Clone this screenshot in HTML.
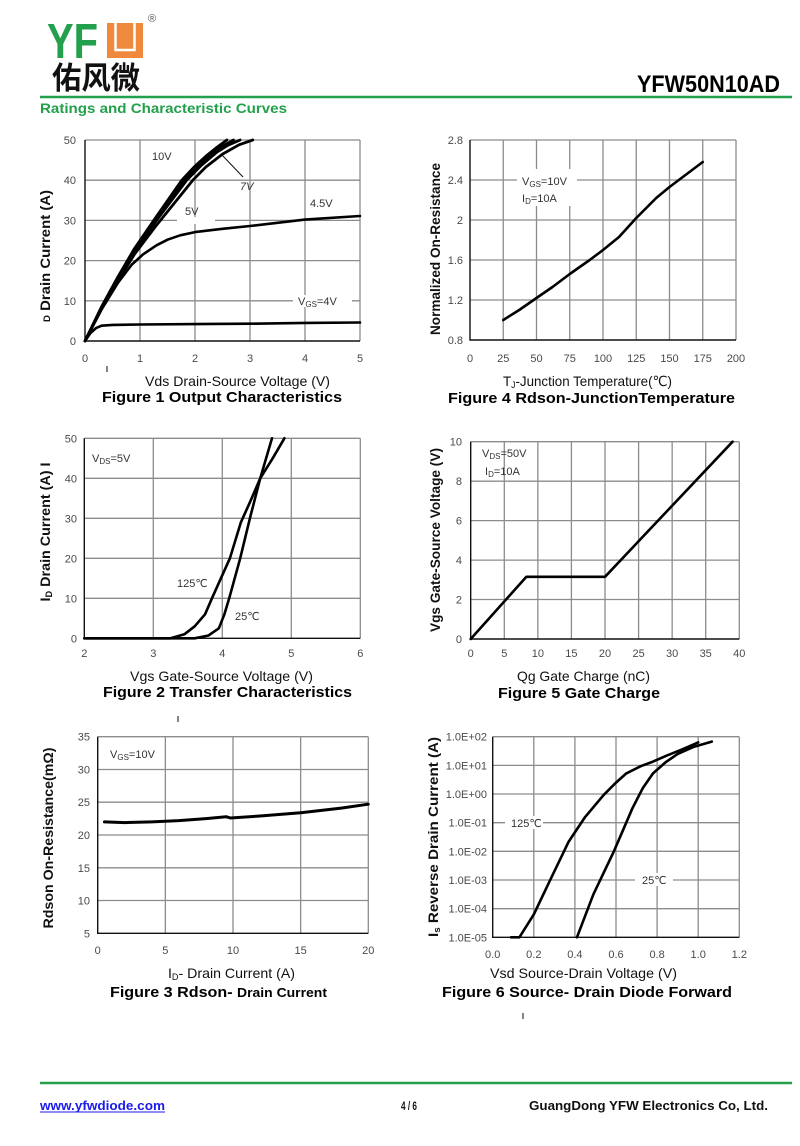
<!DOCTYPE html>
<html><head><meta charset="utf-8"><style>
html,body{margin:0;padding:0;background:#fff;}
svg{display:block;}
text{font-family:"Liberation Sans",Arial,"Noto Sans CJK SC",sans-serif;}
.tk{font-size:11px;fill:#4a4a4a;}
.ax{font-size:14px;fill:#111;}
.yt{font-size:14px;fill:#111;font-weight:bold;}
.ft{font-size:15px;fill:#000;font-weight:bold;}
.an{font-size:11px;fill:#333;}
.g{stroke:#8c8c8c;stroke-width:1.3;fill:none;}
.k{stroke:#111;stroke-width:1.4;fill:none;}
.c{stroke:#000;stroke-width:2.6;fill:none;stroke-linejoin:round;stroke-linecap:round;}
</style></head><body>
<svg width="800" height="1146" viewBox="0 0 800 1146" xmlns="http://www.w3.org/2000/svg">
<rect width="800" height="1146" fill="#fff"/>

<!-- HEADER -->
<text x="47" y="58" font-size="49" font-weight="bold" fill="#22a04b" textLength="51" lengthAdjust="spacingAndGlyphs">YF</text>
<rect x="107" y="23" width="36" height="35" fill="#ef8a3c"/>
<polyline points="115.5,23 115.5,50 134.5,50 134.5,23" fill="none" stroke="#fff" stroke-width="2.5"/>
<text x="148" y="22" font-size="11" fill="#555">®</text>
<text x="52" y="89" font-size="31" font-weight="bold" fill="#111" style="font-family:'Noto Sans CJK SC','WenQuanYi Zen Hei',sans-serif" textLength="88" lengthAdjust="spacingAndGlyphs">佑风微</text>
<text x="637" y="92" font-size="24" font-weight="bold" fill="#000" textLength="143" lengthAdjust="spacingAndGlyphs">YFW50N10AD</text>
<line x1="40" y1="97" x2="792" y2="97" stroke="#22a04b" stroke-width="2.5"/>
<text x="40" y="113" font-size="14" font-weight="bold" fill="#22a04b" textLength="247" lengthAdjust="spacingAndGlyphs">Ratings and Characteristic Curves</text>

<!-- FIGURE 1 -->
<g>
<path class="g" d="M140,140V341M195,140V341M250,140V341M305,140V341M360,140V341M85,140H360M85,180.2H360M85,260.6H360M85,300.8H360M85,220.4H360"/>
<rect x="177" y="217" width="38" height="7" fill="#fff"/>
<rect x="293" y="295" width="59" height="12" fill="#fff"/>
<path class="k" d="M85,140V341H360"/>
<polyline class="c" style="stroke-width:2.8" points="85,341 101.5,306.8 118,276.7 134.5,248.5 156.5,216.4 181.8,180.2 195,166.1 206,156.1 217,147.2 226.9,140"/>
<polyline class="c" style="stroke-width:2.8" points="85,341 101.5,307.4 118,277.7 134.5,250 156.5,218.4 184.3,180.2 197.7,166.1 211.5,154.1 222.5,146.2 233.5,140"/>
<polyline class="c" style="stroke-width:2.8" points="85,341 101.5,308 118,278.7 134.5,251.4 156.5,220.4 186.75,180.2 200.5,166.1 217,152.1 228,145.2 240.1,140"/>
<polyline class="c" style="stroke-width:2.8" points="85,341 101.5,308.8 118,280.7 134.5,254.2 156.5,225.2 192.8,180.2 206,166.9 222.5,154.1 239,144.8 252.75,140"/>
<polyline class="c" points="85,341 101.5,309.6 118,282.7 131.75,264.6 143.3,254.2 156.5,245.3 167.5,239.7 180.2,235.3 195,232.1 222.5,228.8 250,226 277.5,222.8 305,219.6 360,216"/>
<polyline class="c" points="85,341 90.5,333 96,328.1 101.5,325.7 112.5,324.9 140,324.5 195,324.1 250,323.7 305,322.9 360,322.5"/>
<line x1="222" y1="155" x2="243" y2="177" stroke="#111" stroke-width="1"/>
<text class="an" x="152" y="160">10V</text>
<text class="an" x="240" y="190" font-style="italic">7V</text>
<text class="an" x="185" y="215">5V</text>
<text class="an" x="310" y="207">4.5V</text>
<text class="an" x="298" y="305">V<tspan font-size="8" dy="2">GS</tspan><tspan dy="-2">=4V</tspan></text>
<g class="tk" text-anchor="end">
<text x="76" y="345">0</text><text x="76" y="304.8">10</text><text x="76" y="264.6">20</text><text x="76" y="224.4">30</text><text x="76" y="184.2">40</text><text x="76" y="144">50</text>
</g>
<g class="tk" text-anchor="middle">
<text x="85" y="362">0</text><text x="140" y="362">1</text><text x="195" y="362">2</text><text x="250" y="362">3</text><text x="305" y="362">4</text><text x="360" y="362">5</text>
</g>
<text class="yt" transform="translate(50,256) rotate(-90)" text-anchor="middle" textLength="132" lengthAdjust="spacingAndGlyphs"><tspan font-size="9">D</tspan> Drain Current (A)</text>
<text class="ax" x="145" y="386" textLength="185" lengthAdjust="spacingAndGlyphs">Vds Drain-Source Voltage (V)</text>
<text class="ft" x="102" y="402" textLength="240" lengthAdjust="spacingAndGlyphs">Figure 1 Output Characteristics</text>
<line x1="107" y1="366" x2="107" y2="372" stroke="#333" stroke-width="1.2"/>
</g>

<!-- FIGURE 4 -->
<g>
<path class="g" d="M503.25,140V340M536.5,140V340M569.75,140V340M603,140V340M636.25,140V340M669.5,140V340M702.75,140V340M736,140V340M470,140H736M470,180H736M470,220H736M470,260H736M470,300H736"/>
<rect x="517" y="169" width="60" height="37" fill="#fff"/>
<path class="k" d="M470,140V340H736"/>
<polyline class="c" points="503.25,320 519.2,310 536.5,298 552.5,287 569.75,274 589.7,260 603,250 619,237 636.25,218 656.2,198 669.5,187 682.8,177 702.75,162"/>
<text class="an" x="522" y="185">V<tspan font-size="8" dy="2">GS</tspan><tspan dy="-2">=10V</tspan></text>
<text class="an" x="522" y="202">I<tspan font-size="8" dy="2">D</tspan><tspan dy="-2">=10A</tspan></text>
<g class="tk" text-anchor="end">
<text x="463" y="344">0.8</text><text x="463" y="304">1.2</text><text x="463" y="264">1.6</text><text x="463" y="224">2</text><text x="463" y="184">2.4</text><text x="463" y="144">2.8</text>
</g>
<g class="tk" text-anchor="middle">
<text x="470" y="362">0</text><text x="503.25" y="362">25</text><text x="536.5" y="362">50</text><text x="569.75" y="362">75</text><text x="603" y="362">100</text><text x="636.25" y="362">125</text><text x="669.5" y="362">150</text><text x="702.75" y="362">175</text><text x="736" y="362">200</text>
</g>
<text class="yt" transform="translate(440,249) rotate(-90)" text-anchor="middle" textLength="172" lengthAdjust="spacingAndGlyphs">Normalized On-Resistance</text>
<text class="ax" x="503" y="386" textLength="169" lengthAdjust="spacingAndGlyphs">T<tspan font-size="9" dy="2">J</tspan><tspan dy="-2">-Junction Temperature(</tspan><tspan style="font-family:'DejaVu Sans','Noto Sans CJK SC',sans-serif">℃</tspan>)</text>
<text class="ft" x="448" y="403" textLength="287" lengthAdjust="spacingAndGlyphs">Figure 4 Rdson-JunctionTemperature</text>
</g>

<!-- FIGURE 2 -->
<g>
<path class="g" d="M153.3,438.3V638.3M222.3,438.3V638.3M291.3,438.3V638.3M360.3,438.3V638.3M84.3,438.3H360.3M84.3,478.3H360.3M84.3,518.3H360.3M84.3,558.3H360.3M84.3,598.3H360.3"/>
<path class="k" d="M84.3,438.3V638.3H360.3"/>
<polyline class="c" points="84.3,638.3 170.55,638.3 184.35,634.3 194.7,626.3 205.05,614.3 211.95,598.3 220.9,578.3 229.9,558.3 240.9,522.3 249.9,502.3 260.25,478.3 272.7,458.3 284.4,438.3"/>
<polyline class="c" points="84.3,638.3 194.7,638.3 208.5,635.5 218.85,628.3 224.4,614.3 229.2,598.3 234.7,578.3 240.2,558.3 249.9,518.3 260.25,478.3 272,438.3"/>
<text class="an" x="92" y="462">V<tspan font-size="8" dy="2">DS</tspan><tspan dy="-2">=5V</tspan></text>
<text class="an" x="177" y="587">125<tspan style="font-family:'DejaVu Sans','Noto Sans CJK SC',sans-serif">℃</tspan></text>
<text class="an" x="235" y="620">25<tspan style="font-family:'DejaVu Sans','Noto Sans CJK SC',sans-serif">℃</tspan></text>
<g class="tk" text-anchor="end">
<text x="77" y="642.3">0</text><text x="77" y="602.3">10</text><text x="77" y="562.3">20</text><text x="77" y="522.3">30</text><text x="77" y="482.3">40</text><text x="77" y="442.3">50</text>
</g>
<g class="tk" text-anchor="middle">
<text x="84.3" y="657">2</text><text x="153.3" y="657">3</text><text x="222.3" y="657">4</text><text x="291.3" y="657">5</text><text x="360.3" y="657">6</text>
</g>
<text class="yt" transform="translate(50,532) rotate(-90)" text-anchor="middle" textLength="139" lengthAdjust="spacingAndGlyphs">I<tspan font-size="9" dy="2">D</tspan><tspan dy="-2"> Drain Current (A) I</tspan></text>
<text class="ax" x="130" y="681" textLength="183" lengthAdjust="spacingAndGlyphs">Vgs Gate-Source Voltage (V)</text>
<text class="ft" x="103" y="697" textLength="249" lengthAdjust="spacingAndGlyphs">Figure 2 Transfer Characteristics</text>
<line x1="178" y1="716" x2="178" y2="722" stroke="#333" stroke-width="1.2"/>
</g>

<!-- FIGURE 5 -->
<g>
<path class="g" d="M504.3,441.7V639M537.85,441.7V639M571.4,441.7V639M605,441.7V639M638.6,441.7V639M672.15,441.7V639M705.7,441.7V639M739.3,441.7V639M470.7,441.7H739.3M470.7,481.2H739.3M470.7,520.6H739.3M470.7,560.1H739.3M470.7,599.5H739.3"/>
<path class="k" d="M470.7,441.7V639H739.3"/>
<polyline class="c" points="470.7,639 526.4,576.8 605,576.8 732.6,441.7"/>
<text class="an" x="482" y="457">V<tspan font-size="8" dy="2">DS</tspan><tspan dy="-2">=50V</tspan></text>
<text class="an" x="485" y="475">I<tspan font-size="8" dy="2">D</tspan><tspan dy="-2">=10A</tspan></text>
<g class="tk" text-anchor="end">
<text x="462" y="643">0</text><text x="462" y="603.5">2</text><text x="462" y="564.1">4</text><text x="462" y="524.6">6</text><text x="462" y="485.2">8</text><text x="462" y="445.7">10</text>
</g>
<g class="tk" text-anchor="middle">
<text x="470.7" y="657">0</text><text x="504.3" y="657">5</text><text x="537.85" y="657">10</text><text x="571.4" y="657">15</text><text x="605" y="657">20</text><text x="638.6" y="657">25</text><text x="672.15" y="657">30</text><text x="705.7" y="657">35</text><text x="739.3" y="657">40</text>
</g>
<text class="yt" transform="translate(440,540) rotate(-90)" text-anchor="middle" textLength="184" lengthAdjust="spacingAndGlyphs">Vgs Gate-Source Voltage (V)</text>
<text class="ax" x="517" y="681" textLength="133" lengthAdjust="spacingAndGlyphs">Qg Gate Charge (nC)</text>
<text class="ft" x="498" y="698" textLength="162" lengthAdjust="spacingAndGlyphs">Figure 5 Gate Charge</text>
</g>

<!-- FIGURE 3 -->
<g>
<path class="g" d="M165.35,736.7V933.3M233,736.7V933.3M300.65,736.7V933.3M368.3,736.7V933.3M97.7,736.7H368.3M97.7,769.5H368.3M97.7,802.2H368.3M97.7,835H368.3M97.7,867.8H368.3M97.7,900.5H368.3"/>
<path class="k" d="M97.7,736.7V933.3H368.3"/>
<polyline class="c" style="stroke-width:3" points="104.5,821.9 124.8,822.6 151.8,821.9 178.9,820.6 205.9,818.6 226.2,816.7 230.3,818 260.1,816 300.7,812.7 341.2,808.1 368.3,804.2"/>
<text class="an" x="110" y="758">V<tspan font-size="8" dy="2">GS</tspan><tspan dy="-2">=10V</tspan></text>
<g class="tk" text-anchor="end">
<text x="90" y="937.3">5</text><text x="90" y="904.5">10</text><text x="90" y="871.8">15</text><text x="90" y="839">20</text><text x="90" y="806.2">25</text><text x="90" y="773.5">30</text><text x="90" y="740.7">35</text>
</g>
<g class="tk" text-anchor="middle">
<text x="97.7" y="954">0</text><text x="165.35" y="954">5</text><text x="233" y="954">10</text><text x="300.65" y="954">15</text><text x="368.3" y="954">20</text>
</g>
<text class="yt" transform="translate(53,838) rotate(-90)" text-anchor="middle" textLength="181" lengthAdjust="spacingAndGlyphs">Rdson On-Resistance(mΩ)</text>
<text class="ax" x="168" y="978" textLength="127" lengthAdjust="spacingAndGlyphs">I<tspan font-size="9" dy="2">D</tspan><tspan dy="-2">- Drain Current (A)</tspan></text>
<text class="ft" x="110" y="997" textLength="217" lengthAdjust="spacingAndGlyphs">Figure 3 Rdson- <tspan font-size="13">Drain Current</tspan></text>
</g>

<!-- FIGURE 6 -->
<g>
<path class="g" d="M533.8,736.7V937.3M574.9,736.7V937.3M616,736.7V937.3M657.1,736.7V937.3M698.2,736.7V937.3M739.3,736.7V937.3M492.7,736.7H739.3M492.7,765.4H739.3M492.7,794H739.3M492.7,822.7H739.3M492.7,851.3H739.3M492.7,880H739.3M492.7,908.7H739.3"/>
<rect x="505" y="816" width="38" height="13" fill="#fff"/>
<rect x="635" y="873" width="38" height="13" fill="#fff"/>
<path class="k" d="M492.7,736.7V937.3H739.3"/>
<polyline class="c" points="511,937.3 519.4,937.3 533.8,914.4 550.2,880 568.7,841.6 585.2,816.9 603.7,794.9 616,782.6 626.3,773.4 640.7,766.2 653,761.6 667.4,755.3 681.8,749.6 698.2,742.4"/>
<polyline class="c" points="576.95,937.3 593.4,894.3 613.9,851.3 632.4,808.3 642.7,788.3 653,773.4 665.3,762.5 677.7,753.9 694.1,746.7 711.8,741.6"/>
<text class="an" x="511" y="827">125<tspan style="font-family:'DejaVu Sans','Noto Sans CJK SC',sans-serif">℃</tspan></text>
<text class="an" x="642" y="884">25<tspan style="font-family:'DejaVu Sans','Noto Sans CJK SC',sans-serif">℃</tspan></text>
<g class="tk" text-anchor="end">
<text x="487" y="740.7">1.0E+02</text><text x="487" y="769.4">1.0E+01</text><text x="487" y="798">1.0E+00</text><text x="487" y="826.7">1.0E-01</text><text x="487" y="855.3">1.0E-02</text><text x="487" y="884">1.0E-03</text><text x="487" y="912.7">1.0E-04</text><text x="487" y="941.3">1.0E-05</text>
</g>
<g class="tk" text-anchor="middle">
<text x="492.7" y="958">0.0</text><text x="533.8" y="958">0.2</text><text x="574.9" y="958">0.4</text><text x="616" y="958">0.6</text><text x="657.1" y="958">0.8</text><text x="698.2" y="958">1.0</text><text x="739.3" y="958">1.2</text>
</g>
<text class="yt" transform="translate(438,837) rotate(-90)" text-anchor="middle" textLength="200" lengthAdjust="spacingAndGlyphs">I<tspan font-size="9" dy="2">s</tspan><tspan dy="-2"> Reverse Drain Current (A)</tspan></text>
<text class="ax" x="490" y="978" textLength="187" lengthAdjust="spacingAndGlyphs">Vsd Source-Drain Voltage (V)</text>
<text class="ft" x="442" y="997" textLength="290" lengthAdjust="spacingAndGlyphs">Figure 6 Source- Drain Diode Forward</text>
<line x1="523" y1="1013" x2="523" y2="1019" stroke="#333" stroke-width="1.2"/>
</g>

<!-- FOOTER -->
<line x1="40" y1="1083" x2="792" y2="1083" stroke="#22a04b" stroke-width="2.5"/>
<text x="40" y="1110" font-size="12.5" font-weight="bold" fill="#1a1aee" textLength="125" lengthAdjust="spacingAndGlyphs">www.yfwdiode.com</text>
<line x1="40" y1="1112" x2="165" y2="1112" stroke="#1a1aee" stroke-width="1"/>
<text x="401" y="1110" font-size="11.5" font-weight="bold" fill="#111" textLength="16" lengthAdjust="spacingAndGlyphs">4 / 6</text>
<text x="529" y="1110" font-size="13" font-weight="bold" fill="#111" textLength="239" lengthAdjust="spacingAndGlyphs">GuangDong YFW Electronics Co, Ltd.</text>
</svg>
</body></html>
